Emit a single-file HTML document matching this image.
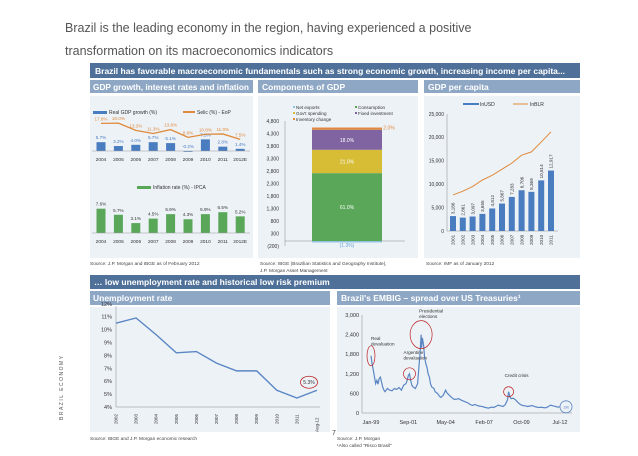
<!DOCTYPE html>
<html><head><meta charset="utf-8"><style>
body{margin:0;background:#fff;font-family:"Liberation Sans",sans-serif}
svg text{font-family:"Liberation Sans",sans-serif}
</style></head><body>
<svg id="s" width="638" height="451" viewBox="0 0 638 451" xmlns="http://www.w3.org/2000/svg">
<text x="65" y="32" font-size="12.5" fill="#555">Brazil is the leading economy in the region, having experienced a positive</text>
<text x="65" y="55" font-size="12.5" fill="#555">transformation on its macroeconomics indicators</text>
<rect x="90" y="63" width="490" height="15" fill="#4f7199"/>
<text x="95" y="74" font-size="8.5" font-weight="bold" fill="#fff">Brazil has favorable macroeconomic fundamentals such as strong economic growth, increasing income per capita...</text>
<rect x="90" y="80" width="163" height="13" fill="#8ea7c5"/>
<text x="93" y="90" font-size="8" font-weight="bold" fill="#fff" textLength="156" lengthAdjust="spacingAndGlyphs">GDP growth, interest rates and inflation</text>
<rect x="258" y="80" width="160" height="13" fill="#8ea7c5"/>
<text x="262" y="90" font-size="8.5" font-weight="bold" fill="#fff">Components of GDP</text>
<rect x="424" y="80" width="156" height="13" fill="#8ea7c5"/>
<text x="428" y="90" font-size="8.5" font-weight="bold" fill="#fff">GDP per capita</text>
<rect x="90" y="96" width="163" height="162" fill="#edf2f7"/>
<rect x="258" y="96" width="160" height="162" fill="#edf2f7"/>
<rect x="424" y="96" width="156" height="162" fill="#edf2f7"/>
<text x="90" y="265" font-size="4.8" fill="#444">Source: J.P. Morgan and IBGE as of February 2012</text>
<text x="260" y="265" font-size="4.8" fill="#444">Source: IBGE (Brazilian Statistics and Geography Institute),</text>
<text x="260" y="272" font-size="4.8" fill="#444">J.P. Morgan Asset Management</text>
<text x="426" y="265" font-size="4.8" fill="#444">Source: IMF as of January 2012</text>
<rect x="90" y="275" width="490" height="14" fill="#4f7199"/>
<text x="94" y="285" font-size="8.5" font-weight="bold" fill="#fff">… low unemployment rate and historical low risk premium</text>
<rect x="90" y="291" width="240" height="14" fill="#8ea7c5"/>
<text x="93" y="301" font-size="8.5" font-weight="bold" fill="#fff">Unemployment rate</text>
<rect x="337" y="291" width="243" height="14" fill="#8ea7c5"/>
<text x="341" y="301" font-size="8.5" font-weight="bold" fill="#fff">Brazil's EMBIG – spread over US Treasuries¹</text>
<rect x="90" y="307" width="240" height="125" fill="#edf2f7"/>
<rect x="337" y="307" width="243" height="125" fill="#edf2f7"/>
<text x="90" y="440" font-size="4.8" fill="#444">Source: IBGE and J.P. Morgan economic research</text>
<text x="337" y="440" font-size="4.8" fill="#444">Source: J.P. Morgan</text>
<text x="337" y="447" font-size="4.8" fill="#444">¹Also called "Risco Brasil"</text>
<text x="332" y="435" font-size="7" fill="#444">7</text>
<text transform="translate(63,420) rotate(-90)" font-size="5" letter-spacing="1.5" fill="#555">BRAZIL ECONOMY</text>
<g id="g"></g>
</svg>
<script>
// ---- data ----
const gdpYears=['2004','2005','2006','2007','2008','2009','2010','2011','2012E'];
const gdpGrowth=[5.7,3.2,4.0,5.7,5.1,-0.2,7.5,2.8,1.4];
const selic=[17.8,18.0,13.3,11.3,13.8,8.8,10.8,11.0,7.5];
const inflation=[7.6,5.7,3.1,4.5,5.9,4.3,5.9,6.5,5.2];
const compNames=['Consumption','Fixed investment','Gov\'t spending','Inventory change','Net exports'];
const compPct=[61.0,18.0,21.0,2.0,-1.3];
const compTicks=[-200,300,800,1300,1800,2300,2800,3300,3800,4300,4800];
const pcYears=['2001','2002','2003','2004','2005','2006','2007','2008','2009','2010','2011'];
const inUSD=[3186,2861,3097,3655,4812,5867,7283,8706,8369,10814,12917];
const inBLR=[7700,8500,9500,10900,11900,13200,14500,16200,16900,19000,21200];
const pcTicks=[0,5000,10000,15000,20000,25000];
const unYears=['2002','2003','2004','2005','2006','2007','2008','2009','2010','2011','Aug-12'];
const unRate=[10.5,10.9,9.6,8.2,8.3,7.4,6.8,6.8,5.3,4.7,5.3];
const unTicks=[4,5,6,7,8,9,10,11,12];
const embT=[1999.0,1999.08,1999.17,1999.25,1999.33,1999.42,1999.5,1999.58,1999.67,1999.75,1999.83,1999.92,2000.0,2000.17,2000.33,2000.5,2000.67,2000.83,2001.0,2001.17,2001.33,2001.5,2001.58,2001.67,2001.75,2001.83,2001.92,2002.0,2002.17,2002.33,2002.42,2002.5,2002.58,2002.62,2002.67,2002.75,2002.83,2002.92,2003.0,2003.08,2003.17,2003.25,2003.33,2003.5,2003.58,2003.75,2003.92,2004.0,2004.17,2004.33,2004.42,2004.58,2004.75,2004.92,2005.08,2005.25,2005.42,2005.58,2005.75,2005.92,2006.08,2006.25,2006.42,2006.58,2006.75,2006.92,2007.08,2007.25,2007.42,2007.58,2007.75,2007.92,2008.08,2008.25,2008.42,2008.58,2008.75,2008.83,2008.92,2009.0,2009.17,2009.33,2009.5,2009.67,2009.83,2010.0,2010.17,2010.33,2010.5,2010.67,2010.83,2011.0,2011.17,2011.33,2011.5,2011.67,2011.83,2012.0,2012.17,2012.33,2012.5];
const embV=[1750,1500,1300,1100,900,1000,880,1050,1100,950,800,700,650,750,700,680,750,720,780,700,850,900,1000,1150,1200,1000,850,800,750,900,1400,1800,2400,2000,2300,2100,1700,1500,1400,1200,1100,900,800,750,650,600,500,480,550,700,620,550,480,420,420,440,400,370,340,310,260,230,260,230,210,200,180,160,150,180,170,200,240,220,200,250,400,650,500,440,450,400,320,260,230,220,200,210,230,200,180,170,175,165,160,200,240,220,200,180,190];
const embTicks=[0,600,1200,1800,2400,3000];
const embLabels=['Jan-99','Sep-01','May-04','Feb-07','Oct-09','Jul-12'];
const embLabelT=[1999.0,2001.67,2004.33,2007.08,2009.75,2012.5];

const G=document.getElementById('g');const NS='http://www.w3.org/2000/svg';
function el(tag,attrs,txt){const e=document.createElementNS(NS,tag);for(const k in attrs)e.setAttribute(k,attrs[k]);if(txt!==undefined)e.textContent=txt;G.appendChild(e);return e;}
const fmt=n=>n.toLocaleString('en-US');

// GDP growth + selic
const gx=i=>101+i*17.4, gy=v=>151-v*1.55;
let e=el('rect',{x:93,y:111,width:14,height:3,fill:'#4a7cc0'});

e=el('text',{x:109,y:114,'font-size':5,fill:'#333'},'Real GDP growth (%)');

e=el('rect',{x:183,y:111,width:12,height:2,fill:'#e08a3c'});

e=el('text',{x:197,y:114,'font-size':5,fill:'#333'},'Selic (%) - EoP');

gdpGrowth.forEach((v,i)=>{
 e=el('rect',{x:gx(i)-4.5,y:Math.min(gy(v),gy(0)),width:9,height:Math.max(Math.abs(gy(v)-gy(0)),0.8),fill:'#4a7cc0'});
 
 e=el('text',{x:gx(i),y:Math.min(gy(v),gy(0))-3,'font-size':4.6,fill:'#4a7cc0','text-anchor':'middle'},v.toFixed(1)+'%');
 
 e=el('text',{x:gx(i),y:161,'font-size':4.8,fill:'#333','text-anchor':'middle'},gdpYears[i]);
 
});
e=el('line',{x1:92,x2:250,y1:gy(0),y2:gy(0),stroke:'#999','stroke-width':0.5});

e=el('polyline',{points:selic.map((v,i)=>gx(i)+','+gy(v)).join(' '),fill:'none',stroke:'#e08a3c','stroke-width':1.3});

selic.forEach((v,i)=>{e=el('text',{x:gx(i),y:gy(v)-3,'font-size':4.6,fill:'#e08a3c','text-anchor':'middle'},v.toFixed(1)+'%');
 });

// inflation
const iy=v=>233-v*3.2;
e=el('rect',{x:137,y:186,width:14,height:3,fill:'#5aa75a'});

e=el('text',{x:153,y:189,'font-size':5,fill:'#333'},'Inflation rate (%) - IPCA');

inflation.forEach((v,i)=>{
 e=el('rect',{x:gx(i)-4.5,y:iy(v),width:9,height:233-iy(v),fill:'#5aa75a'});
 
 e=el('text',{x:gx(i),y:iy(v)-3,'font-size':4.6,fill:'#333','text-anchor':'middle'},v.toFixed(1)+'%');
 
 e=el('text',{x:gx(i),y:243,'font-size':4.8,fill:'#333','text-anchor':'middle'},gdpYears[i]);
 
});
e=el('line',{x1:92,x2:250,y1:233,y2:233,stroke:'#999','stroke-width':0.5});


// components
const cy=v=>241-v*0.025, unit=44.5;
compTicks.forEach(t=>{e=el('text',{x:279,y:cy(t)+1.8,'font-size':5,fill:'#333','text-anchor':'end'},t<0?'('+(-t)+')':fmt(t));
 });
e=el('line',{x1:285,x2:285,y1:cy(4800),y2:cy(-200),stroke:'#888','stroke-width':0.5});

e=el('line',{x1:285,x2:405,y1:cy(0),y2:cy(0),stroke:'#888','stroke-width':0.5});

const order=[0,2,1,3];const cols=['#5aa75a','#8064a2','#d6bd35','#e08a3c','#8fc1e0'];
let acc=0;
order.forEach(k=>{const h=compPct[k]*unit;
 e=el('rect',{x:312,y:cy(acc+h),width:70,height:h*0.025,fill:cols[k]});
 
 if(k!==3){e=el('text',{x:347,y:cy(acc+h/2)+2,'font-size':5,fill:'#fff','text-anchor':'middle'},compPct[k].toFixed(1)+'%');
 }
 acc+=h;});
e=el('text',{x:389,y:cy(acc)+2,'font-size':5,fill:'#e08a3c','text-anchor':'middle'},compPct[3].toFixed(1)+'%');

e=el('rect',{x:312,y:cy(0),width:70,height:-compPct[4]*unit*0.025,fill:cols[4]});

e=el('text',{x:347,y:cy(0)+6,'font-size':5,fill:'#6aa8d8','text-anchor':'middle'},'('+(-compPct[4]).toFixed(1)+'%)');

[['Net exports',296,109,'#8fc1e0'],['Consumption',358,109,'#5aa75a'],['Gov\'t spending',296,115,'#d6bd35'],['Fixed investment',358,115,'#8064a2'],['Inventory change',296,121,'#e08a3c']].forEach(l=>{
 e=el('rect',{x:l[1]-3,y:l[2]-3,width:2,height:2,fill:l[3]});
 
 e=el('text',{x:l[1],y:l[2],'font-size':4.6,fill:'#333'},l[0]);
 });

// per capita
const px=i=>453+i*9.8, py=v=>231-v*117/25000;
pcTicks.forEach(t=>{e=el('text',{x:444,y:py(t)+1.8,'font-size':5,fill:'#333','text-anchor':'end'},fmt(t));
 });
e=el('line',{x1:447,x2:447,y1:py(25000),y2:py(0),stroke:'#888','stroke-width':0.5});

e=el('line',{x1:447,x2:558,y1:py(0),y2:py(0),stroke:'#888','stroke-width':0.5});

inUSD.forEach((v,i)=>{
 e=el('rect',{x:px(i)-3,y:py(v),width:6,height:py(0)-py(v),fill:'#4a7cc0'});
 
 e=el('text',{transform:'translate('+(px(i)+1.7)+','+(py(v)-2)+') rotate(-90)','font-size':4.6,fill:'#333'},fmt(v));
 
 e=el('text',{transform:'translate('+(px(i)+1.7)+','+(py(0)+14)+') rotate(-90)','font-size':4.6,fill:'#333'},pcYears[i]);
 });
e=el('polyline',{points:inBLR.map((v,i)=>px(i)+','+py(v)).join(' '),fill:'none',stroke:'#e08a3c','stroke-width':1});

e=el('rect',{x:463,y:103,width:16,height:2,fill:'#4a7cc0'});

e=el('text',{x:480,y:106,'font-size':5,fill:'#333'},'InUSD');

e=el('rect',{x:513,y:103.5,width:15,height:1,fill:'#e08a3c'});

e=el('text',{x:530,y:106,'font-size':5,fill:'#333'},'InBLR');


// unemployment
const ux=i=>116+i*20.1, uy=v=>407-(v-4)*12.9;
unTicks.forEach(t=>{e=el('text',{x:112,y:uy(t)+2,'font-size':5.5,fill:'#333','text-anchor':'end'},t+'%');
 });
e=el('line',{x1:116,x2:116,y1:306,y2:407,stroke:'#888','stroke-width':0.5});

e=el('line',{x1:116,x2:320,y1:407,y2:407,stroke:'#888','stroke-width':0.5});

unYears.forEach((y,i)=>{e=el('text',{transform:'translate('+(ux(i)+1.5)+','+(i==10?432:424)+') rotate(-90)','font-size':4.5,fill:'#333'},y);
 });
e=el('polyline',{points:unRate.map((v,i)=>ux(i)+','+uy(v)).join(' '),fill:'none',stroke:'#5b86c4','stroke-width':1.4});

e=el('ellipse',{cx:ux(10)-8,cy:uy(unRate[10])-8,rx:8.5,ry:6,fill:'none',stroke:'#b22','stroke-width':0.8});

e=el('text',{x:ux(10)-8,y:uy(unRate[10])-6,'font-size':5,fill:'#333','text-anchor':'middle'},unRate[10].toFixed(1)+'%');


// EMBIG
const ex=t=>371+(t-1999)*14, ey=v=>413-v*98/3000;
embTicks.forEach(t=>{e=el('text',{x:359,y:ey(t)+2,'font-size':5.5,fill:'#333','text-anchor':'end'},fmt(t));
 });
e=el('line',{x1:362,x2:362,y1:ey(3000),y2:ey(0),stroke:'#888','stroke-width':0.5});

e=el('line',{x1:362,x2:572,y1:ey(0),y2:ey(0),stroke:'#888','stroke-width':0.5});

embLabels.forEach((l,i)=>{e=el('text',{x:ex(embLabelT[i]),y:424,'font-size':5.5,fill:'#333','text-anchor':'middle'},l);
 });
e=el('polyline',{points:embT.map((t,i)=>ex(t)+','+ey(embV[i])).join(' '),fill:'none',stroke:'#5b86c4','stroke-width':1.2});

[[1999.0,1750,'Real','devaluation',4,10,0,-16],[2001.75,1200,'Argentine','devaluation',6,6,-6,-20],[2002.58,2400,'Presidential','elections',11,14,-2,-22],[2008.83,650,'Credit crisis','',5,5,-4,-15]].forEach(a=>{
 e=el('ellipse',{cx:ex(a[0]),cy:ey(a[1]),rx:a[4],ry:a[5],fill:'none',stroke:'#b22','stroke-width':0.7});
 
 e=el('text',{x:ex(a[0])+a[6],y:ey(a[1])+a[7],'font-size':4.6,fill:'#333'},a[2]);
 
 if(a[3]){e=el('text',{x:ex(a[0])+a[6],y:ey(a[1])+a[7]+5.5,'font-size':4.6,fill:'#333'},a[3]);
 }});
e=el('circle',{cx:ex(2012.5)+6,cy:ey(embV[embV.length-1]),r:6,fill:'none',stroke:'#5b86c4','stroke-width':0.8});

e=el('text',{x:ex(2012.5)+6,y:ey(embV[embV.length-1])+1.5,'font-size':3.5,fill:'#5b86c4','text-anchor':'middle'},'196');

</script>
</body></html>
